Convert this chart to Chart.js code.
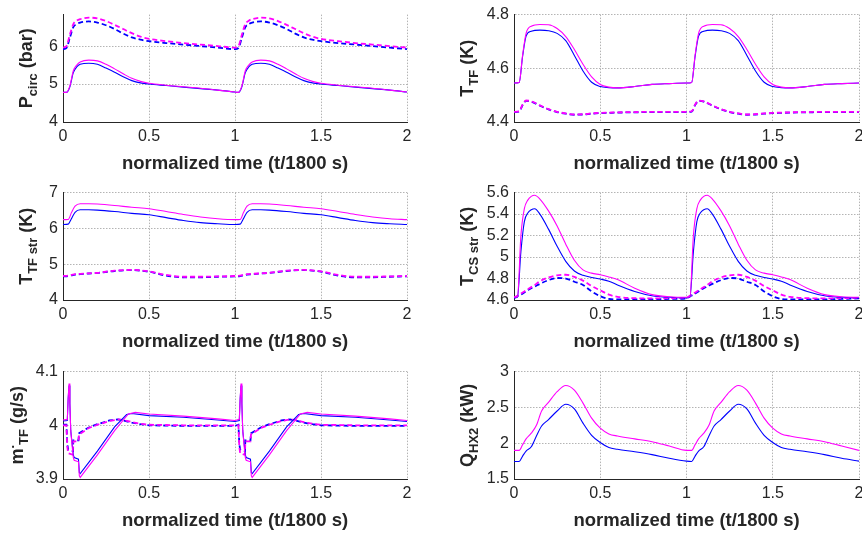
<!DOCTYPE html>
<html>
<head>
<meta charset="utf-8">
<script src="https://cdn.jsdelivr.net/npm/chart.js@4.4.0/dist/chart.umd.min.js"></script>
<style>
  html, body { margin: 0; padding: 0; background: #fff; overflow: hidden; width: 862px; height: 533px; }
  canvas { position: absolute; }
</style>
</head>
<body>
<canvas id="c1" width="431" height="176" style="left:0;top:0"></canvas>
<canvas id="c2" width="460" height="176" style="left:431px;top:0"></canvas>
<canvas id="c3" width="431" height="176" style="left:0;top:178px"></canvas>
<canvas id="c4" width="460" height="176" style="left:431px;top:178px"></canvas>
<canvas id="c5" width="431" height="176" style="left:0;top:357px"></canvas>
<canvas id="c6" width="460" height="176" style="left:431px;top:357px"></canvas>
<script>
// tick labels shared by all panels
const xTicks = [0, 0.5, 1, 1.5, 2];
const xTitle = 'normalized time (t/1800 s)';

// P_circ (bar)
const p1X = [0, 0.02, 0.04, 0.06, 0.08, 0.1, 0.15, 0.2, 0.25, 0.3, 0.35, 0.4, 0.45, 0.5, 0.6, 0.7, 0.8, 0.9, 1.0,
             1.02, 1.04, 1.06, 1.08, 1.1, 1.15, 1.2, 1.25, 1.3, 1.35, 1.4, 1.45, 1.5, 1.6, 1.7, 1.8, 1.9, 2.0];
const p1MagSolid = [4.78, 4.78, 4.95, 5.35, 5.5, 5.58, 5.63, 5.61, 5.52, 5.4, 5.27, 5.15, 5.07, 5.02, 4.97, 4.93, 4.89, 4.84, 4.79,
                    4.78, 4.95, 5.35, 5.5, 5.58, 5.63, 5.61, 5.52, 5.4, 5.27, 5.15, 5.07, 5.02, 4.97, 4.93, 4.89, 4.84, 4.79];
const p1BlueSolid = [4.78, 4.78, 4.93, 5.3, 5.45, 5.52, 5.55, 5.52, 5.42, 5.31, 5.19, 5.09, 5.03, 5.0, 4.96, 4.92, 4.88, 4.84, 4.79,
                     4.78, 4.93, 5.3, 5.45, 5.52, 5.55, 5.52, 5.42, 5.31, 5.19, 5.09, 5.03, 5.0, 4.96, 4.92, 4.88, 4.84, 4.79];
const p1MagDash = [5.96, 6.0, 6.3, 6.58, 6.67, 6.71, 6.75, 6.73, 6.66, 6.56, 6.45, 6.34, 6.25, 6.19, 6.13, 6.08, 6.04, 6.0, 5.96,
                   6.0, 6.3, 6.58, 6.67, 6.71, 6.75, 6.73, 6.66, 6.56, 6.45, 6.34, 6.25, 6.19, 6.13, 6.08, 6.04, 6.0, 5.96];
const p1BlueDash = [5.92, 5.95, 6.22, 6.5, 6.58, 6.62, 6.65, 6.62, 6.55, 6.45, 6.33, 6.23, 6.17, 6.13, 6.08, 6.04, 6.0, 5.96, 5.92,
                    5.95, 6.22, 6.5, 6.58, 6.62, 6.65, 6.62, 6.55, 6.45, 6.33, 6.23, 6.17, 6.13, 6.08, 6.04, 6.0, 5.96, 5.92];
const p1Ticks = [4, 5, 6];

// T_TF (K)
const p2X = [0, 0.03, 0.05, 0.07, 0.1, 0.15, 0.2, 0.25, 0.3, 0.35, 0.4, 0.45, 0.5, 0.55, 0.6, 0.7, 0.8, 0.9, 1.0,
             1.03, 1.05, 1.07, 1.1, 1.15, 1.2, 1.25, 1.3, 1.35, 1.4, 1.45, 1.5, 1.55, 1.6, 1.7, 1.8, 1.9, 2.0];
const p2MagSolid = [4.545, 4.547, 4.65, 4.73, 4.757, 4.763, 4.762, 4.748, 4.718, 4.67, 4.615, 4.568, 4.54, 4.53, 4.527, 4.532, 4.54, 4.543, 4.545,
                    4.547, 4.65, 4.73, 4.757, 4.763, 4.762, 4.748, 4.718, 4.67, 4.615, 4.568, 4.54, 4.53, 4.527, 4.532, 4.54, 4.543, 4.545];
const p2BlueSolid = [4.545, 4.547, 4.645, 4.72, 4.738, 4.742, 4.74, 4.73, 4.703, 4.648, 4.59, 4.548, 4.532, 4.528, 4.527, 4.532, 4.54, 4.543, 4.545,
                     4.547, 4.645, 4.72, 4.738, 4.742, 4.74, 4.73, 4.703, 4.648, 4.59, 4.548, 4.532, 4.528, 4.527, 4.532, 4.54, 4.543, 4.545];
const p2MagDash = [4.438, 4.44, 4.465, 4.48, 4.477, 4.462, 4.448, 4.438, 4.432, 4.428, 4.429, 4.432, 4.434, 4.435, 4.436, 4.437, 4.438, 4.438, 4.438,
                   4.44, 4.465, 4.48, 4.477, 4.462, 4.448, 4.438, 4.432, 4.428, 4.429, 4.432, 4.434, 4.435, 4.436, 4.437, 4.438, 4.438, 4.438];
const p2BlueDash = [4.437, 4.439, 4.463, 4.479, 4.476, 4.461, 4.447, 4.437, 4.431, 4.427, 4.428, 4.431, 4.433, 4.434, 4.435, 4.436, 4.437, 4.437, 4.437,
                    4.439, 4.463, 4.479, 4.476, 4.461, 4.447, 4.437, 4.431, 4.427, 4.428, 4.431, 4.433, 4.434, 4.435, 4.436, 4.437, 4.437, 4.437];
const p2Ticks = [4.4, 4.6, 4.8];

// T_TF str (K)
const p3X = [0, 0.03, 0.05, 0.07, 0.1, 0.15, 0.2, 0.3, 0.4, 0.5, 0.6, 0.7, 0.8, 0.9, 1.0,
             1.03, 1.05, 1.07, 1.1, 1.15, 1.2, 1.3, 1.4, 1.5, 1.6, 1.7, 1.8, 1.9, 2.0];
const p3MagSolid = [6.245, 6.25, 6.45, 6.62, 6.69, 6.69, 6.68, 6.64, 6.59, 6.55, 6.47, 6.39, 6.32, 6.27, 6.245,
                    6.25, 6.45, 6.62, 6.69, 6.69, 6.68, 6.64, 6.59, 6.55, 6.47, 6.39, 6.32, 6.27, 6.245];
const p3BlueSolid = [6.11, 6.12, 6.28, 6.45, 6.52, 6.52, 6.51, 6.47, 6.42, 6.38, 6.3, 6.22, 6.16, 6.13, 6.11,
                     6.12, 6.28, 6.45, 6.52, 6.52, 6.51, 6.47, 6.42, 6.38, 6.3, 6.22, 6.16, 6.13, 6.11];
const p3MagDash = [4.67, 4.68, 4.7, 4.72, 4.73, 4.745, 4.76, 4.82, 4.84, 4.8, 4.7, 4.65, 4.65, 4.66, 4.67,
                   4.68, 4.7, 4.72, 4.73, 4.745, 4.76, 4.82, 4.84, 4.8, 4.7, 4.65, 4.65, 4.66, 4.67];
const p3BlueDash = [4.66, 4.67, 4.69, 4.71, 4.72, 4.74, 4.755, 4.81, 4.835, 4.79, 4.68, 4.635, 4.635, 4.65, 4.66,
                    4.67, 4.69, 4.71, 4.72, 4.74, 4.755, 4.81, 4.835, 4.79, 4.68, 4.635, 4.635, 4.65, 4.66];
const p3Ticks = [4, 5, 6, 7];

// T_CS str (K)
const p4X = [0, 0.02, 0.04, 0.06, 0.08, 0.1, 0.12, 0.15, 0.2, 0.25, 0.3, 0.35, 0.4, 0.45, 0.5, 0.55, 0.6, 0.7, 0.8, 0.9, 1.0,
             1.02, 1.04, 1.06, 1.08, 1.1, 1.12, 1.15, 1.2, 1.25, 1.3, 1.35, 1.4, 1.45, 1.5, 1.55, 1.6, 1.7, 1.8, 1.9, 2.0];
const p4MagSolid = [4.625, 4.63, 5.2, 5.45, 5.53, 5.565, 5.575, 5.54, 5.43, 5.29, 5.12, 4.97, 4.88, 4.85, 4.835, 4.815, 4.79, 4.71, 4.65, 4.63, 4.625,
                    4.63, 5.2, 5.45, 5.53, 5.565, 5.575, 5.54, 5.43, 5.29, 5.12, 4.97, 4.88, 4.85, 4.835, 4.815, 4.79, 4.71, 4.65, 4.63, 4.625];
const p4BlueSolid = [4.62, 4.625, 5.05, 5.33, 5.41, 5.44, 5.45, 5.4, 5.26, 5.1, 4.96, 4.87, 4.83, 4.81, 4.795, 4.775, 4.74, 4.68, 4.64, 4.625, 4.62,
                     4.625, 5.05, 5.33, 5.41, 5.44, 5.45, 5.4, 5.26, 5.1, 4.96, 4.87, 4.83, 4.81, 4.795, 4.775, 4.74, 4.68, 4.64, 4.625, 4.62];
const p4MagDash = [4.625, 4.64, 4.66, 4.68, 4.7, 4.72, 4.74, 4.775, 4.81, 4.83, 4.835, 4.815, 4.78, 4.73, 4.69, 4.65, 4.63, 4.617, 4.615, 4.617, 4.62,
                   4.64, 4.66, 4.68, 4.7, 4.72, 4.74, 4.775, 4.81, 4.83, 4.835, 4.815, 4.78, 4.73, 4.69, 4.65, 4.63, 4.617, 4.615, 4.617, 4.62];
const p4BlueDash = [4.62, 4.635, 4.65, 4.67, 4.69, 4.71, 4.725, 4.75, 4.785, 4.805, 4.8, 4.77, 4.74, 4.68, 4.635, 4.61, 4.605, 4.605, 4.605, 4.61, 4.615,
                    4.635, 4.65, 4.67, 4.69, 4.71, 4.725, 4.75, 4.785, 4.805, 4.8, 4.77, 4.74, 4.68, 4.635, 4.61, 4.605, 4.605, 4.605, 4.61, 4.615];
const p4Ticks = [4.6, 4.8, 5, 5.2, 5.4, 5.6];

// m_TF (g/s) - sharp transients, so every series has its own time points
const p5MagSolidX = [0, 0.025, 0.03, 0.035, 0.04, 0.045, 0.055, 0.06, 0.065, 0.09, 0.095, 0.1, 0.2, 0.3, 0.38, 0.42, 0.5, 0.7, 0.9, 1.0,
                     1.025, 1.03, 1.035, 1.04, 1.045, 1.055, 1.06, 1.065, 1.09, 1.095, 1.1, 1.2, 1.3, 1.38, 1.42, 1.5, 1.7, 1.9, 2.0];
const p5MagSolid = [4.01, 4.011, 4.05, 4.078, 4.04, 3.99, 3.955, 3.94, 3.935, 3.932, 3.906, 3.903, 3.945, 3.99, 4.021, 4.024, 4.021, 4.017, 4.012, 4.009,
                    4.011, 4.05, 4.078, 4.04, 3.99, 3.955, 3.94, 3.935, 3.932, 3.906, 3.903, 3.945, 3.99, 4.021, 4.024, 4.021, 4.017, 4.012, 4.009];
const p5BlueSolidX = [0, 0.025, 0.03, 0.035, 0.04, 0.045, 0.055, 0.06, 0.065, 0.09, 0.095, 0.1, 0.2, 0.3, 0.37, 0.4, 0.5, 0.7, 0.9, 1.0,
                      1.025, 1.03, 1.035, 1.04, 1.045, 1.055, 1.06, 1.065, 1.09, 1.095, 1.1, 1.2, 1.3, 1.37, 1.4, 1.5, 1.7, 1.9, 2.0];
const p5BlueSolid = [4.008, 4.009, 4.05, 4.074, 4.04, 3.99, 3.96, 3.945, 3.94, 3.937, 3.912, 3.91, 3.952, 3.997, 4.02, 4.022, 4.018, 4.015, 4.01, 4.007,
                     4.009, 4.05, 4.074, 4.04, 3.99, 3.96, 3.945, 3.94, 3.937, 3.912, 3.91, 3.952, 3.997, 4.02, 4.022, 4.018, 4.015, 4.01, 4.007];
const p5DashX = [0, 0.02, 0.025, 0.03, 0.058, 0.06, 0.09, 0.093, 0.15, 0.2, 0.27, 0.32, 0.35, 0.4, 0.45, 0.5, 0.7, 1.0,
                 1.02, 1.025, 1.03, 1.058, 1.06, 1.09, 1.093, 1.15, 1.2, 1.27, 1.32, 1.35, 1.4, 1.45, 1.5, 1.7, 2.0];
const p5MagDash = [4.0, 4.0, 3.96, 3.948, 3.945, 3.97, 3.97, 3.983, 3.995, 4.001, 4.008, 4.011, 4.01, 4.006, 4.003, 4.001, 4.0, 4.0,
                   4.0, 3.96, 3.948, 3.945, 3.97, 3.97, 3.983, 3.995, 4.001, 4.008, 4.011, 4.01, 4.006, 4.003, 4.001, 4.0, 4.0];
const p5BlueDash = [4.001, 4.001, 3.965, 3.955, 3.952, 3.972, 3.972, 3.985, 3.996, 4.002, 4.009, 4.011, 4.009, 4.005, 4.002, 4.0, 3.999, 3.999,
                    4.001, 3.965, 3.955, 3.952, 3.972, 3.972, 3.985, 3.996, 4.002, 4.009, 4.011, 4.009, 4.005, 4.002, 4.0, 3.999, 3.999];
const p5Ticks = [3.9, 4, 4.1];

// Q_HX2 (kW)
const p6X = [0, 0.03, 0.05, 0.07, 0.1, 0.13, 0.16, 0.2, 0.25, 0.3, 0.35, 0.4, 0.45, 0.5, 0.55, 0.6, 0.7, 0.8, 0.9, 1.0,
             1.03, 1.05, 1.07, 1.1, 1.13, 1.16, 1.2, 1.25, 1.3, 1.35, 1.4, 1.45, 1.5, 1.55, 1.6, 1.7, 1.8, 1.9, 2.0];
const p6Mag = [1.9, 1.9, 1.98, 2.06, 2.14, 2.25, 2.45, 2.57, 2.72, 2.805, 2.74, 2.56, 2.35, 2.21, 2.13, 2.1, 2.06, 2.02, 1.96, 1.9,
               1.9, 1.98, 2.06, 2.14, 2.25, 2.45, 2.57, 2.72, 2.805, 2.74, 2.56, 2.35, 2.21, 2.13, 2.1, 2.06, 2.02, 1.96, 1.9];
const p6Blue = [1.745, 1.745, 1.82, 1.89, 1.95, 2.1, 2.24, 2.33, 2.45, 2.545, 2.48, 2.28, 2.11, 2.01, 1.94, 1.915, 1.88, 1.84, 1.79, 1.75,
                1.745, 1.82, 1.89, 1.95, 2.1, 2.24, 2.33, 2.45, 2.545, 2.48, 2.28, 2.11, 2.01, 1.94, 1.915, 1.88, 1.84, 1.79, 1.75];
const p6Ticks = [1.5, 2, 2.5, 3];

const FONT = '"Liberation Sans", Arial, Helvetica, sans-serif';
const INK = '#262626';
const MAGENTA = '#ff00ff';
const BLUE = '#0000ff';

function series(xs, ys, color, dashed, smooth) {
    return {
        data: xs.map((x, i) => ({ x: x, y: ys[i] })),
        borderColor: color,
        borderWidth: dashed ? 1.8 : 1.1,
        borderDash: dashed ? [5, 3] : [],
        pointRadius: 0,
        fill: false,
        tension: 0,
        cubicInterpolationMode: smooth ? 'monotone' : 'default'
    };
}

// rotated y label with sub/superscripts
function drawRichLabel(ctx, parts, cx, cy) {
    const fonts = { n: 'bold 18px ' + FONT, sub: 'bold 13px ' + FONT, sup: 'bold 13px ' + FONT };
    const shift = { n: 0, sub: 5, sup: -9 };
    let total = 0;
    parts.forEach(p => { ctx.font = fonts[p[1]]; total += ctx.measureText(p[0]).width; });
    ctx.save();
    ctx.translate(cx, cy);
    ctx.rotate(-Math.PI / 2);
    ctx.textAlign = 'left';
    ctx.textBaseline = 'alphabetic';
    ctx.fillStyle = INK;
    let x = -total / 2;
    parts.forEach(p => {
        ctx.font = fonts[p[1]];
        ctx.fillText(p[0], x, 6.5 + shift[p[1]]);
        x += ctx.measureText(p[0]).width;
    });
    ctx.restore();
}

function makePanel(id, cfg) {
    const canvas = document.getElementById(id);
    const W = canvas.width, H = canvas.height;
    const labels = {
        id: 'labels',
        afterDraw(chart) {
            const { ctx, chartArea: a } = chart;
            ctx.save();
            ctx.fillStyle = INK;
            ctx.font = 'bold 18.5px ' + FONT;
            ctx.textAlign = 'center';
            ctx.textBaseline = 'middle';
            ctx.fillText(xTitle, (a.left + a.right) / 2, a.bottom + 42);
            ctx.restore();
            drawRichLabel(ctx, cfg.yLabel, cfg.yLabelX, (a.top + a.bottom) / 2);
        }
    };
    return new Chart(canvas, {
        type: 'line',
        data: { datasets: cfg.datasets },
        options: {
            responsive: false,
            animation: false,
            events: [],
            layout: { padding: { top: 12, right: W - cfg.plotRight, left: 0, bottom: 0 } },
            plugins: { legend: { display: false }, tooltip: { enabled: false } },
            scales: {
                x: {
                    type: 'linear', min: 0, max: 2,
                    afterBuildTicks: s => { s.ticks = xTicks.map(v => ({ value: v })); },
                    afterFit: s => { s.height = H - 122; },
                    grid: { color: '#b4b4b4', lineWidth: 1, drawTicks: false },
                    border: { display: true, color: INK, width: 1, dash: [1.5, 1.5] },
                    ticks: { color: INK, font: { size: 16, family: FONT }, padding: 5, maxRotation: 0, autoSkip: false,
                             callback: v => String(Math.round(v * 1000) / 1000) }
                },
                y: {
                    type: 'linear', min: cfg.yMin, max: cfg.yMax,
                    afterBuildTicks: s => { s.ticks = cfg.yTicks.map(v => ({ value: v })); },
                    afterFit: s => { s.width = cfg.plotLeft; },
                    grid: { color: '#b4b4b4', lineWidth: 1, drawTicks: false },
                    border: { display: true, color: INK, width: 1, dash: [1.5, 1.5] },
                    ticks: { color: INK, font: { size: 16, family: FONT }, padding: 5, autoSkip: false,
                             callback: v => String(Math.round(v * 1000) / 1000) }
                }
            }
        },
        plugins: [labels]
    });
}

const LEFT = { plotLeft: 63, plotRight: 407 };
const RIGHT = { plotLeft: 83, plotRight: 428 };

makePanel('c1', Object.assign({}, LEFT, {
    yMin: 4, yMax: 6.83, yTicks: p1Ticks, yLabelX: 25,
    yLabel: [['P', 'n'], ['circ', 'sub'], [' (bar)', 'n']],
    datasets: [
        series(p1X, p1MagSolid, MAGENTA, false, true),
        series(p1X, p1BlueSolid, BLUE, false, true),
        series(p1X, p1MagDash, MAGENTA, true, true),
        series(p1X, p1BlueDash, BLUE, true, true)
    ]
}));

makePanel('c2', Object.assign({}, RIGHT, {
    yMin: 4.4, yMax: 4.8, yTicks: p2Ticks, yLabelX: 35,
    yLabel: [['T', 'n'], ['TF', 'sub'], [' (K)', 'n']],
    datasets: [
        series(p2X, p2MagSolid, MAGENTA, false, true),
        series(p2X, p2BlueSolid, BLUE, false, true),
        series(p2X, p2MagDash, MAGENTA, true, true),
        series(p2X, p2BlueDash, BLUE, true, true)
    ]
}));

makePanel('c3', Object.assign({}, LEFT, {
    yMin: 4, yMax: 7, yTicks: p3Ticks, yLabelX: 25,
    yLabel: [['T', 'n'], ['TF str', 'sub'], [' (K)', 'n']],
    datasets: [
        series(p3X, p3MagSolid, MAGENTA, false, true),
        series(p3X, p3BlueSolid, BLUE, false, true),
        series(p3X, p3MagDash, MAGENTA, true, true),
        series(p3X, p3BlueDash, BLUE, true, true)
    ]
}));

makePanel('c4', Object.assign({}, RIGHT, {
    yMin: 4.6, yMax: 5.6, yTicks: p4Ticks, yLabelX: 35,
    yLabel: [['T', 'n'], ['CS str', 'sub'], [' (K)', 'n']],
    datasets: [
        series(p4X, p4MagSolid, MAGENTA, false, true),
        series(p4X, p4BlueSolid, BLUE, false, true),
        series(p4X, p4MagDash, MAGENTA, true, true),
        series(p4X, p4BlueDash, BLUE, true, true)
    ]
}));

makePanel('c5', Object.assign({}, LEFT, {
    yMin: 3.9, yMax: 4.1, yTicks: p5Ticks, yLabelX: 16,
    yLabel: [['m', 'n'], ['.', 'sup'], ['TF', 'sub'], [' (g/s)', 'n']],
    datasets: [
        series(p5MagSolidX, p5MagSolid, MAGENTA, false, false),
        series(p5BlueSolidX, p5BlueSolid, BLUE, false, false),
        series(p5DashX, p5MagDash, MAGENTA, true, false),
        series(p5DashX, p5BlueDash, BLUE, true, false)
    ]
}));

makePanel('c6', Object.assign({}, RIGHT, {
    yMin: 1.5, yMax: 3, yTicks: p6Ticks, yLabelX: 35,
    yLabel: [['Q', 'n'], ['HX2', 'sub'], [' (kW)', 'n']],
    datasets: [
        series(p6X, p6Mag, MAGENTA, false, true),
        series(p6X, p6Blue, BLUE, false, true)
    ]
}));
</script>
</body>
</html>
